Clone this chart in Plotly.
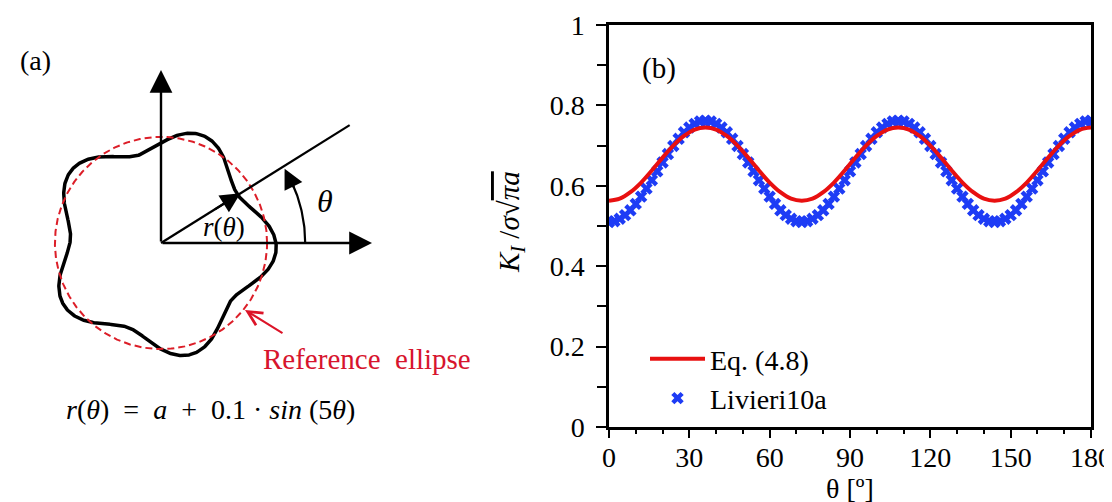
import numpy as np
import plotly.graph_objects as go

# ---------------- panel (b) data ----------------
theta_eq = list(range(0, 181, 4))
ki_eq = [0.563, 0.568, 0.584, 0.608, 0.638, 0.670, 0.700, 0.724, 0.740, 0.745,
         0.740, 0.724, 0.700, 0.670, 0.638, 0.608, 0.584, 0.568, 0.563,
         0.568, 0.584, 0.608, 0.638, 0.670, 0.700, 0.724, 0.740, 0.745,
         0.740, 0.724, 0.700, 0.670, 0.638, 0.608, 0.584, 0.568, 0.563,
         0.568, 0.584, 0.608, 0.638, 0.670, 0.700, 0.724, 0.740, 0.745]

theta_liv = list(range(0, 181, 2))
ki_liv = [0.510, 0.512, 0.518, 0.527, 0.539, 0.555, 0.573, 0.593, 0.614, 0.636,
          0.658, 0.679, 0.699, 0.717, 0.733, 0.745, 0.754, 0.760, 0.762, 0.760,
          0.754, 0.745, 0.733, 0.717, 0.699, 0.679, 0.658, 0.636, 0.614, 0.593,
          0.573, 0.555, 0.539, 0.527, 0.518, 0.512, 0.510,
          0.512, 0.518, 0.527, 0.539, 0.555, 0.573, 0.593, 0.614, 0.636,
          0.658, 0.679, 0.699, 0.717, 0.733, 0.745, 0.754, 0.760, 0.762, 0.760,
          0.754, 0.745, 0.733, 0.717, 0.699, 0.679, 0.658, 0.636, 0.614, 0.593,
          0.573, 0.555, 0.539, 0.527, 0.518, 0.512, 0.510,
          0.512, 0.518, 0.527, 0.539, 0.555, 0.573, 0.593, 0.614, 0.636,
          0.658, 0.679, 0.699, 0.717, 0.733, 0.745, 0.754, 0.760, 0.762]

y_tickvals = [0, 0.2, 0.4, 0.6, 0.8, 1]
y_ticktext = ["0", "0.2", "0.4", "0.6", "0.8", "1"]
x_tickvals = [0, 30, 60, 90, 120, 150, 180]

# ---------------- panel (a) schematic parameters ----------------
shape_a = 1.0          # mean radius
shape_amp = 0.12       # wave amplitude (drawing)
shape_lobes = 5
shape_phase_deg = -3
ref_radius = 1.03
theta_line_deg = 32

W, H = 1112, 502
FONT = "Liberation Serif, Times New Roman, Times, serif"
RED = "rgb(232,16,16)"
BLUE = "rgb(30,60,245)"

# pixel helpers for layout
PX = 103.0
OX, OY = 153.0, 235.0


def pu(px, py):
    return (px - OX) / PX, (OY - py) / PX


def pp(px, py):
    return px / W, 1 - py / H


fig = go.Figure()

# ---- panel (b) traces ----
fig.add_trace(go.Scatter(
    x=theta_liv, y=ki_liv, mode="markers", name="Livieri10a",
    marker=dict(symbol="x", size=11, color=BLUE, line=dict(width=0)),
    legendrank=2))
fig.add_trace(go.Scatter(
    x=theta_eq, y=ki_eq, mode="lines", name="Eq. (4.8)",
    line=dict(color=RED, width=4, shape="spline"), legendrank=1))

# ---- panel (a) traces ----
t = np.linspace(0, 2 * np.pi, 721)
r = shape_a + shape_amp * np.cos(shape_lobes * (t - np.deg2rad(shape_phase_deg)))
fig.add_trace(go.Scatter(x=r * np.cos(t), y=r * np.sin(t), mode="lines",
                         line=dict(color="black", width=3.5),
                         xaxis="x2", yaxis="y2", showlegend=False, hoverinfo="skip"))
fig.add_trace(go.Scatter(x=ref_radius * np.cos(t), y=ref_radius * np.sin(t), mode="lines",
                         line=dict(color="rgb(220,30,40)", width=2, dash="7px,4px"),
                         xaxis="x2", yaxis="y2", showlegend=False, hoverinfo="skip"))
# radial line
th = np.deg2rad(theta_line_deg)
L = 2.16
fig.add_trace(go.Scatter(x=[0, L * np.cos(th)], y=[0, L * np.sin(th)], mode="lines",
                         line=dict(color="black", width=2.2),
                         xaxis="x2", yaxis="y2", showlegend=False, hoverinfo="skip"))
# angle arc
R_arc = 1.4
ta = np.deg2rad(np.linspace(0, 26, 40))
fig.add_trace(go.Scatter(x=R_arc * np.cos(ta), y=R_arc * np.sin(ta), mode="lines",
                         line=dict(color="black", width=2.2),
                         xaxis="x2", yaxis="y2", showlegend=False, hoverinfo="skip"))

annotations = []


def arrow(tip, tail, color="black", head=2, size=1.6, width=2.2):
    annotations.append(dict(x=tip[0], y=tip[1], ax=tail[0], ay=tail[1],
                            xref="x2", yref="y2", axref="x2", ayref="y2",
                            showarrow=True, arrowhead=head, arrowsize=size,
                            arrowwidth=width, arrowcolor=color, text=""))


# coordinate axes
arrow(pu(153, 62), (0, 0), size=1.9, width=2.4)
arrow(pu(364, 235), (0, 0), size=1.9, width=2.4)
# r(theta) arrow head
rt = 0.91
arrow((rt * np.cos(th), rt * np.sin(th)), (0.6 * np.cos(th), 0.6 * np.sin(th)), size=1.8)
# arc arrow head
t1, t0 = np.deg2rad(31), np.deg2rad(22)
arrow((R_arc * np.cos(t1), R_arc * np.sin(t1)), (R_arc * np.cos(t0), R_arc * np.sin(t0)), size=1.8)
# red pointer to reference ellipse
arrow(pu(237, 302), pu(276, 326), color="rgb(220,20,40)", head=5, size=1.4, width=2)


def text(px, py, s, size=28, color="black", xanchor="center", yanchor="middle", angle=0):
    x, y = pp(px, py)
    annotations.append(dict(x=x, y=y, xref="paper", yref="paper", text=s,
                            showarrow=False, xanchor=xanchor, yanchor=yanchor,
                            textangle=angle, borderpad=0,
                            font=dict(family=FONT, size=size, color=color)))


text(27, 52, "(a)", 28)
text(317, 193, "<i>θ</i>", 32)
text(216, 219, "<i>r</i>(<i>θ</i>)", 27)
text(359, 351, "Reference  ellipse", 29, color="rgb(215,20,45)")
text(202, 401, "<i>r</i>(<i>θ</i>)  =  <i>a</i>  +  0.1 · <i>sin</i> (5<i>θ</i>)", 28)
text(651, 60, "(b)", 29)
# axis titles of panel (b)
text(842, 480, "θ [º]", 28)
text(503, 214, "<i>K</i><sub><i>I</i></sub> /<i>σ</i>√<span style='text-decoration:overline'><i>πa</i></span>",
     29, angle=-90)

fig.update_layout(
    width=W, height=H,
    margin=dict(l=0, r=0, t=0, b=0, autoexpand=False),
    paper_bgcolor="white", plot_bgcolor="white",
    font=dict(family=FONT, size=28, color="black"),
    annotations=annotations,
    showlegend=True,
    legend=dict(x=637 / W, y=1 - 326 / H, xanchor="left", yanchor="top",
                bgcolor="rgba(0,0,0,0)", font=dict(family=FONT, size=28),
                itemwidth=55, tracegroupgap=0),
    xaxis=dict(domain=[601 / W, 1083 / W], range=[0, 180], tickvals=x_tickvals,
               ticks="outside", ticklen=8, tickwidth=2, tickcolor="black",
               minor=dict(dtick=10, ticks="outside", ticklen=4, tickwidth=2, tickcolor="black"),
               showline=True, linewidth=2.5, linecolor="black", mirror=True,
               showgrid=False, zeroline=False, ticklabelstandoff=-4,
               tickfont=dict(family=FONT, size=28)),
    yaxis=dict(domain=[1 - 419 / H, 1 - 17 / H], range=[0, 1],
               tickvals=y_tickvals, ticktext=y_ticktext,
               ticks="outside", ticklen=10, tickwidth=2, tickcolor="black",
               minor=dict(dtick=0.1, ticks="outside", ticklen=9, tickwidth=2, tickcolor="black"),
               showline=True, linewidth=2.5, linecolor="black", mirror=True,
               showgrid=False, zeroline=False, ticklabelstandoff=6,
               tickfont=dict(family=FONT, size=28)),
    xaxis2=dict(domain=[0, 480 / W], range=[-OX / PX, (480 - OX) / PX], visible=False),
    yaxis2=dict(domain=[0, 1], range=[-(H - OY) / PX, OY / PX], visible=False),
)

fig.write_html("out.html")
